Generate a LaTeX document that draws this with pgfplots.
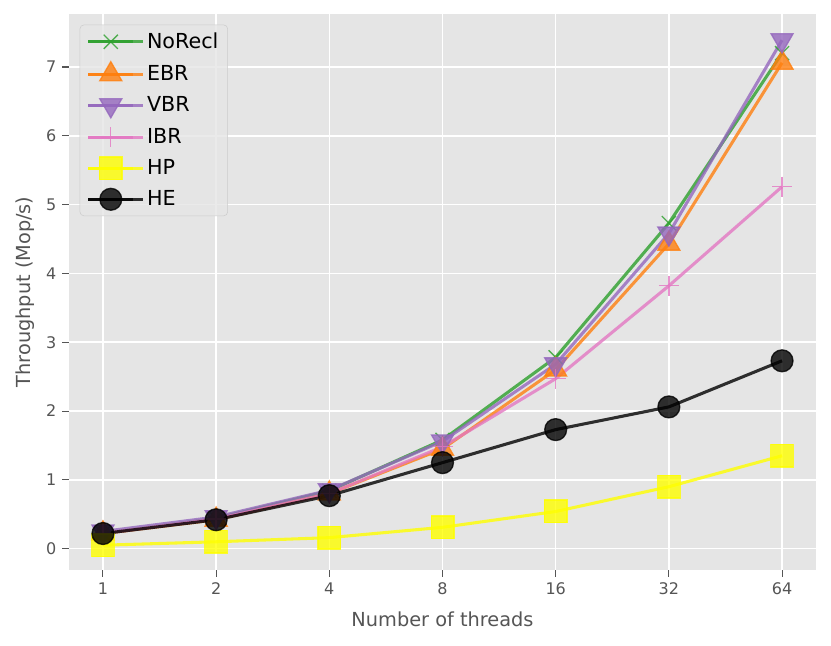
\documentclass[border=0pt]{standalone}
\usepackage{pgfplots}
\pgfplotsset{compat=1.18}
\usepackage{fontspec}
\setmainfont{DejaVu Sans}
\definecolor{bg}{HTML}{E5E5E5}
\definecolor{tc}{HTML}{555555}
\definecolor{cg}{HTML}{2CA02C}
\definecolor{co}{HTML}{FF7F0E}
\definecolor{cp}{HTML}{9467BD}
\definecolor{ck}{HTML}{E377C2}
\definecolor{cy}{HTML}{FFFF00}
\definecolor{cb}{HTML}{000000}
\definecolor{lgd}{HTML}{CCCCCC}
\usetikzlibrary{plotmarks}
\begin{document}
\begin{tikzpicture}
\begin{axis}[
 width=560.25pt, height=417pt, scale only axis,
 xmin=-0.3, xmax=6.3, ymin=-0.31, ymax=7.77,
 axis background/.style={fill=bg},
 axis x line*=bottom, axis y line*=left,
 axis line style={draw=none},
 grid=major, major grid style={white, line width=1.1pt},
 xtick={0,...,6}, xticklabels={1,2,4,8,16,32,64},
 ytick={0,...,7},
 tick style={tc, line width=0.8pt}, tick align=outside, major tick length=5pt,
 ticklabel style={font=\fontsize{12}{14}\selectfont, text=tc},
 xticklabel style={yshift=-1pt},
 yticklabel style={xshift=-1pt},
 /pgf/number format/assume math mode=true,
 xlabel={Number of threads}, ylabel={Throughput (Mop/s)},
 label style={font=\fontsize{14.5}{17}\selectfont, text=tc},
 xlabel style={yshift=-6pt},
 ylabel style={yshift=1.5pt},
 legend cell align=left,
 legend style={at={(0,1)}, anchor=north west, xshift=8pt, yshift=-8pt,
   fill=bg, fill opacity=0.8, text opacity=1, draw=lgd, rounded corners=3pt,
   font=\fontsize{15.5}{18}\selectfont, row sep=6.3pt, inner xsep=5pt, inner ysep=4pt},
 legend image code/.code={\path (0pt,0pt) -- (41pt,0pt);\draw[mark repeat=2,mark phase=2] plot coordinates {(0pt,0pt) (17pt,0pt) (34pt,0pt)};},
 every axis plot/.append style={line width=2.3pt, opacity=0.8},
]
\addplot[cg, mark=x, mark size=7.5pt, mark options={line width=1pt}] coordinates {(0,0.22) (1,0.44) (2,0.84) (3,1.58) (4,2.78) (5,4.73) (6,7.2)};
\addlegendentry{NoRecl}
\addplot[co, mark=triangle*, mark size=9.5pt, mark options={line width=1pt, fill=co}] coordinates {(0,0.22) (1,0.42) (2,0.80) (3,1.45) (4,2.60) (5,4.43) (6,7.06)};
\addlegendentry{EBR}
\addplot[cp, mark=triangle*, mark size=9.5pt, mark options={line width=1pt, fill=cp, rotate=180}] coordinates {(0,0.25) (1,0.46) (2,0.85) (3,1.56) (4,2.68) (5,4.58) (6,7.39)};
\addlegendentry{VBR}
\addplot[ck, mark=+, mark size=7.5pt, mark options={line width=1pt}] coordinates {(0,0.22) (1,0.43) (2,0.80) (3,1.48) (4,2.47) (5,3.82) (6,5.26)};
\addlegendentry{IBR}
\addplot[cy, mark=square*, mark size=8.5pt, mark options={line width=1pt, fill=cy}] coordinates {(0,0.05) (1,0.10) (2,0.16) (3,0.31) (4,0.54) (5,0.90) (6,1.35)};
\addlegendentry{HP}
\addplot[cb, mark=*, mark size=8.2pt, mark options={line width=1pt, fill=cb}] coordinates {(0,0.22) (1,0.42) (2,0.77) (3,1.25) (4,1.73) (5,2.06) (6,2.73)};
\addlegendentry{HE}
\end{axis}
\useasboundingbox (current axis.south west) ++(-51.75pt,-57pt) rectangle ([xshift=11.25pt,yshift=10.5pt]current axis.north east);
\end{tikzpicture}
\end{document}
